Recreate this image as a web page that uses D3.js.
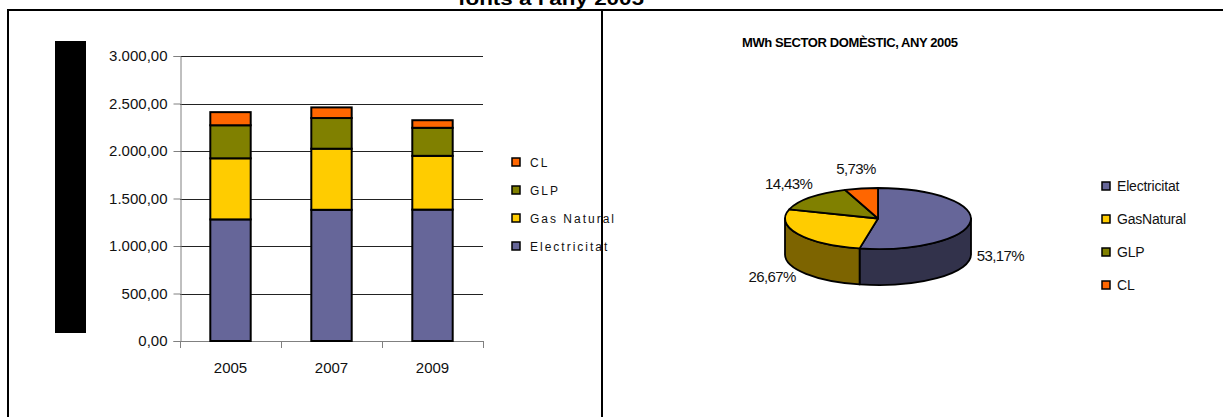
<!DOCTYPE html>
<html>
<head>
<meta charset="utf-8">
<script src="https://cdn.jsdelivr.net/npm/d3@7"></script>
<style>
  body { margin: 0; background: #fff; }
  svg { display: block; font-family: Arial, 'Liberation Sans', sans-serif; }
</style>
</head>
<body>
<div id="chart"></div>
<script>
// data
var years = ['2005', '2007', '2009'];
var electricitat = [1280, 1381, 1383];
var gasNatural = [643, 643, 566];
var glp = [348, 323, 295];
var cl = [138, 112, 80];
var seriesNames = ['Electricitat', 'Gas Natural', 'GLP', 'CL'];
var yTicks = [0, 500, 1000, 1500, 2000, 2500, 3000];

var pieLabels = ['Electricitat', 'GasNatural', 'GLP', 'CL'];
var pieValues = [53.17, 26.67, 14.43, 5.73];

var colors = ['#666699', '#FFCC00', '#808000', '#FF6600'];

var W = 1223, H = 417;
var svg = d3.select('#chart').append('svg')
  .attr('width', W)
  .attr('height', H);

// frame
svg.append('text')
  .attr('x', 551).attr('y', 5)
  .attr('text-anchor', 'middle')
  .attr('font-size', 18).attr('font-weight', 'bold')
  .attr('textLength', 186).attr('lengthAdjust', 'spacingAndGlyphs')
  .text("fonts a l'any 2005");
svg.append('line').attr('x1', 7).attr('x2', W).attr('y1', 10).attr('y2', 10)
  .attr('stroke', '#000').attr('stroke-width', 2);
svg.append('line').attr('x1', 8).attr('x2', 8).attr('y1', 10).attr('y2', H)
  .attr('stroke', '#000').attr('stroke-width', 2);
svg.append('line').attr('x1', 602).attr('x2', 602).attr('y1', 10).attr('y2', H)
  .attr('stroke', '#000').attr('stroke-width', 2);

// ---------- stacked bars ----------
var x = d3.scaleBand().domain(years).range([180, 483])
  .paddingInner(0.6).paddingOuter(0.3);
var y = d3.scaleLinear().domain([0, 3000]).range([341, 56]);

// black block where the y title was
svg.append('rect').attr('x', 55).attr('y', 41).attr('width', 31).attr('height', 292)
  .attr('fill', '#000');

svg.append('g').selectAll('line')
  .data(yTicks.filter(d => d > 0))
  .enter().append('line')
  .attr('x1', 180).attr('x2', 483)
  .attr('y1', d => Math.round(y(d)) + 0.5).attr('y2', d => Math.round(y(d)) + 0.5)
  .attr('stroke', '#222').attr('stroke-width', 1);

var yAxis = svg.append('g')
  .attr('transform', 'translate(180.5,0)')
  .call(d3.axisLeft(y).tickValues(yTicks).tickSize(7).tickPadding(6)
    .tickFormat(d => d3.format(',.2f')(d).replace(/,/g, '#').replace('.', ',').replace(/#/g, '.')));
yAxis.select('.domain').attr('stroke', '#808080');
yAxis.selectAll('.tick line').attr('stroke', '#808080');
yAxis.selectAll('text').attr('font-size', 15).attr('fill', '#111')
  .attr('font-family', 'Arial, Liberation Sans, sans-serif');

// x axis with boundary ticks
svg.append('line').attr('x1', 180).attr('x2', 483)
  .attr('y1', y(0) + 0.5).attr('y2', y(0) + 0.5).attr('stroke', '#808080');
svg.append('g').selectAll('line')
  .data(d3.range(years.length + 1))
  .enter().append('line')
  .attr('x1', i => Math.round(x.range()[0] + i * x.step()) + 0.5)
  .attr('x2', i => Math.round(x.range()[0] + i * x.step()) + 0.5)
  .attr('y1', y(0)).attr('y2', y(0) + 7)
  .attr('stroke', '#808080');
svg.append('g').selectAll('text')
  .data(years)
  .enter().append('text')
  .attr('x', d => x(d) + x.bandwidth() / 2)
  .attr('y', 373)
  .attr('text-anchor', 'middle')
  .attr('font-size', 15).attr('fill', '#111')
  .text(d => d);

var table = years.map((yr, i) => ({
  year: yr,
  'Electricitat': electricitat[i],
  'Gas Natural': gasNatural[i],
  'GLP': glp[i],
  'CL': cl[i]
}));
var stack = d3.stack().keys(seriesNames)(table);

svg.append('g').selectAll('g')
  .data(stack)
  .enter().append('g')
  .attr('fill', (d, i) => colors[i])
  .selectAll('rect')
  .data(d => d)
  .enter().append('rect')
  .attr('x', d => x(d.data.year))
  .attr('width', x.bandwidth())
  .attr('y', d => y(d[1]))
  .attr('height', d => y(d[0]) - y(d[1]))
  .attr('stroke', '#000').attr('stroke-width', 2);

// left legend (reverse order)
var legL = svg.append('g').selectAll('g')
  .data(seriesNames.slice().reverse())
  .enter().append('g')
  .attr('transform', (d, i) => 'translate(512,' + (162 + i * 28) + ')');
legL.append('rect').attr('x', 0).attr('y', -4).attr('width', 8).attr('height', 8)
  .attr('fill', d => colors[seriesNames.indexOf(d)])
  .attr('stroke', '#000').attr('stroke-width', 1.5);
legL.append('text').attr('x', 18).attr('y', 4.5)
  .attr('font-size', 12).attr('letter-spacing', 2).attr('fill', '#111')
  .text(d => d);

// ---------- 3D pie ----------
svg.append('text')
  .attr('x', 742).attr('y', 47)
  .attr('font-size', 13).attr('font-weight', 'bold')
  .attr('textLength', 216).attr('lengthAdjust', 'spacing')
  .text('MWh SECTOR DOMÈSTIC, ANY 2005');

var cx = 878, cy = 218.5, rx = 93, ry = 30.5, depth = 36;
var arcs = d3.pie().sort(null)(pieValues);

function px(a, dy) { return (cx + rx * Math.sin(a)).toFixed(2) + ',' + (cy - ry * Math.cos(a) + (dy || 0)).toFixed(2); }

function topPath(d) {
  var large = (d.endAngle - d.startAngle) > Math.PI ? 1 : 0;
  return 'M' + cx + ',' + cy + 'L' + px(d.startAngle) +
    'A' + rx + ',' + ry + ' 0 ' + large + ' 1 ' + px(d.endAngle) + 'Z';
}
function sidePath(d) {
  var a0 = Math.max(d.startAngle, Math.PI / 2), a1 = Math.min(d.endAngle, 3 * Math.PI / 2);
  if (a1 <= a0) return null;
  return 'M' + px(a0) + 'A' + rx + ',' + ry + ' 0 0 1 ' + px(a1) +
    'L' + px(a1, depth) + 'A' + rx + ',' + ry + ' 0 0 0 ' + px(a0, depth) + 'Z';
}

var pie = svg.append('g');
pie.selectAll('path.side')
  .data(arcs.filter(d => sidePath(d)))
  .enter().append('path')
  .attr('class', 'side')
  .attr('d', sidePath)
  .attr('fill', d => d3.color(colors[d.index]).darker(2))
  .attr('stroke', '#000').attr('stroke-width', 1.8).attr('stroke-linejoin', 'round');
pie.selectAll('path.top')
  .data(arcs)
  .enter().append('path')
  .attr('class', 'top')
  .attr('d', topPath)
  .attr('fill', d => colors[d.index])
  .attr('stroke', '#000').attr('stroke-width', 1.8).attr('stroke-linejoin', 'round');

pie.selectAll('text')
  .data(arcs)
  .enter().append('text')
  .attr('x', d => cx + (rx + 30) * Math.sin((d.startAngle + d.endAngle) / 2))
  .attr('y', d => {
    var m = (d.startAngle + d.endAngle) / 2;
    return cy - (ry + 20) * Math.cos(m) + (Math.cos(m) < 0 ? depth * 0.9 : 0) + 5;
  })
  .attr('text-anchor', 'middle')
  .attr('font-size', 15).attr('letter-spacing', -0.6).attr('fill', '#111')
  .text(d => d3.format('.2f')(d.data).replace('.', ',') + '%');

// right legend
var legR = svg.append('g').selectAll('g')
  .data(pieLabels)
  .enter().append('g')
  .attr('transform', (d, i) => 'translate(1102,' + (186 + i * 33) + ')');
legR.append('rect').attr('x', 0).attr('y', -4).attr('width', 8).attr('height', 8)
  .attr('fill', (d, i) => colors[i])
  .attr('stroke', '#000').attr('stroke-width', 1.5);
legR.append('text').attr('x', 15).attr('y', 5)
  .attr('font-size', 14).attr('letter-spacing', -0.2).attr('fill', '#111')
  .text(d => d);
</script>
</body>
</html>
